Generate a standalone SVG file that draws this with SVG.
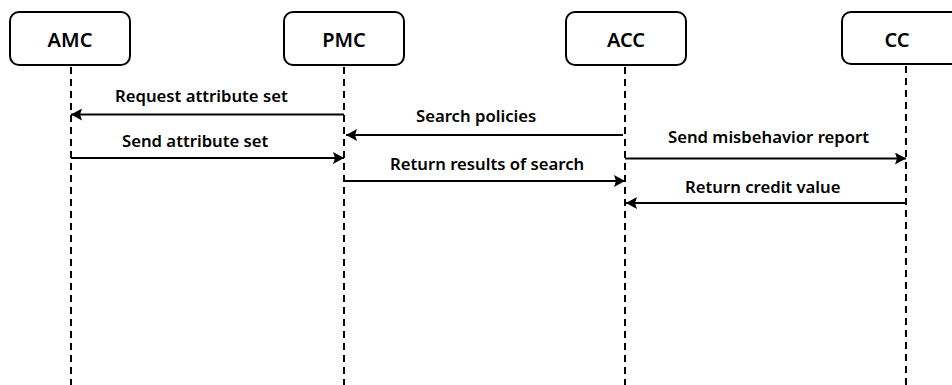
<svg xmlns="http://www.w3.org/2000/svg" width="952" height="385" viewBox="0 0 952 385">
<defs>
<style>
.box{fill:#fff;stroke:#000;stroke-width:2}
.life{stroke:#000;stroke-width:2;stroke-dasharray:7 5;fill:none}
.msg{stroke:#000;stroke-width:2;fill:none;marker-end:url(#ah)}
.t{font-family:"Noto Sans","Liberation Sans",sans-serif;font-weight:600;fill:#000}
.nl{font-size:20px;text-anchor:middle}
.ml{font-size:16.7px}
</style>
<marker id="ah" viewBox="0 0 11 12" refX="11" refY="6" markerWidth="11" markerHeight="12" markerUnits="userSpaceOnUse" orient="auto">
<path d="M0,0 L11,6 L0,12 L2,6 z" fill="#000"/>
</marker>
</defs>
<rect width="952" height="385" fill="#fff"/>
<g id="AMC"><rect class="box" x="10" y="12" width="120" height="53" rx="9"/><text class="t nl" x="70" y="47">AMC</text></g>
<g id="PMC"><rect class="box" x="284" y="12" width="120" height="53" rx="9"/><text class="t nl" x="344" y="47">PMC</text></g>
<g id="ACC"><rect class="box" x="566" y="12" width="120" height="53" rx="9"/><text class="t nl" x="626" y="47">ACC</text></g>
<g id="CC"><rect class="box" x="842" y="12" width="130" height="52" rx="9"/><text class="t nl" x="897" y="47">CC</text></g>
<g id="lifelines">
<line class="life" x1="71" y1="67" x2="71" y2="385"/>
<line class="life" x1="344" y1="67" x2="344" y2="385"/>
<line class="life" x1="625" y1="67" x2="625" y2="385"/>
<line class="life" x1="906" y1="66" x2="906" y2="385"/>
</g>
<g id="connectors">
<line class="msg" x1="344" y1="114.5" x2="71" y2="114.5"/>
<line class="msg" x1="71" y1="158" x2="344" y2="158"/>
<line class="msg" x1="623" y1="135" x2="346" y2="135"/>
<line class="msg" x1="344" y1="181" x2="625" y2="181"/>
<line class="msg" x1="625" y1="158.5" x2="906" y2="158.5"/>
<line class="msg" x1="906" y1="203" x2="626" y2="203"/>
</g>
<g id="labels">
<text class="t ml" x="115" y="102">Request attribute set</text>
<text class="t ml" x="122" y="147">Send attribute set</text>
<text class="t ml" x="416" y="122">Search policies</text>
<text class="t ml" x="390" y="170">Return results of search</text>
<text class="t ml" x="668" y="143">Send misbehavior report</text>
<text class="t ml" x="685" y="193">Return credit value</text>
</g>
</svg>
